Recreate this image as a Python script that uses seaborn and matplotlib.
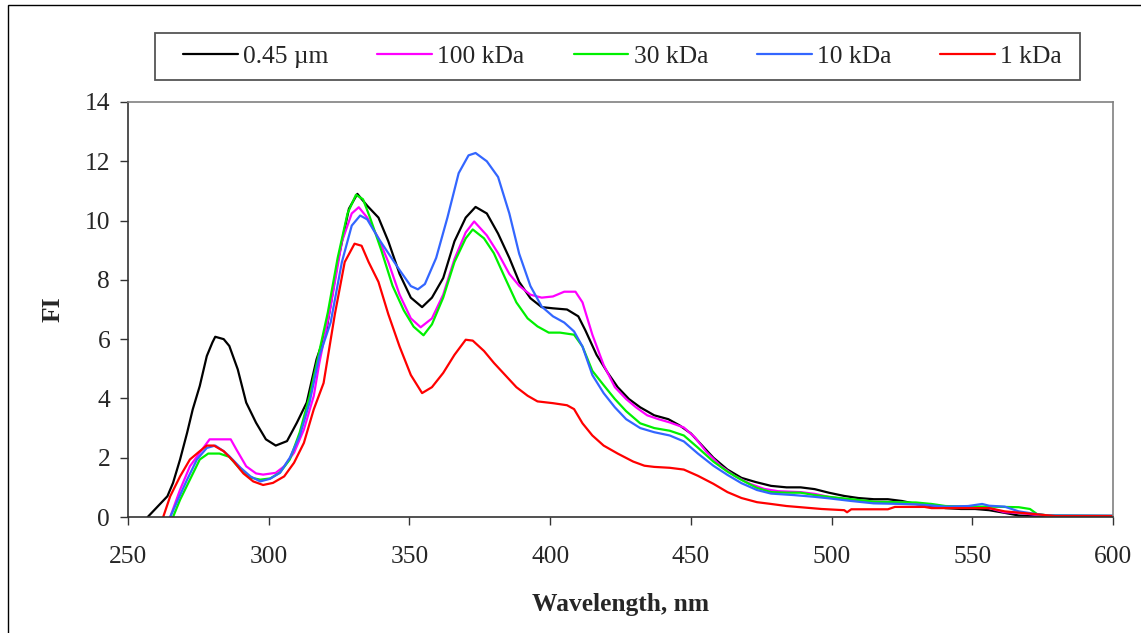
import matplotlib
matplotlib.use("Agg")
import matplotlib.pyplot as plt
import seaborn as sns
from matplotlib.lines import Line2D
from matplotlib.patches import Rectangle

# values (wavelength nm, FI)
wl_045 = [257, 260, 264, 266, 268.5, 271, 273, 275.5, 278, 280, 281, 284, 286, 289, 292, 295.5,
          299, 302.5, 306.5, 310, 313.5, 317, 320.5, 324.5, 328.5, 331.5, 335, 339, 342.5, 346.5,
          350.5, 354.5, 358, 362, 366, 370, 373.5, 377.5, 381.5, 385.5, 389, 393, 397, 401, 406,
          410, 412.5, 416.5, 420.5, 424, 428, 432, 437, 442, 446, 450, 454, 458, 463, 468, 473,
          478.5, 484, 489, 494, 499, 504.5, 509.5, 515, 520, 525, 530, 535.5, 540.5, 546, 551,
          556, 561.5, 566.5, 574, 600]
fi_045 = [0, 0.3, 0.7, 1.15, 1.94, 2.84, 3.63, 4.42, 5.43, 5.89, 6.08, 6.0, 5.77, 4.98, 3.86, 3.18,
          2.62, 2.41, 2.56, 3.18, 3.86, 5.32, 6.3, 8.6, 10.4, 10.9, 10.5, 10.1, 9.3, 8.2,
          7.4, 7.08, 7.4, 8.06, 9.3, 10.1, 10.46, 10.24, 9.56, 8.74, 7.93, 7.38, 7.08, 7.04, 7.0,
          6.77, 6.3, 5.47, 4.86, 4.38, 3.98, 3.7, 3.43, 3.3, 3.09, 2.82, 2.41, 2.0, 1.6, 1.32, 1.18,
          1.05, 1.0, 1.0, 0.94, 0.82, 0.71, 0.64, 0.6, 0.6, 0.54, 0.44, 0.37, 0.3, 0.27, 0.27,
          0.23, 0.14, 0.05, 0.03, 0.03]

wl_100 = [265, 268.5, 272, 275.5, 279, 286.5, 288.5, 292, 295.5, 298, 302.5, 305.5, 309, 312.5,
          316, 318, 322, 326, 329.5, 332, 335, 339, 342.5, 346.5, 350.5, 354, 358, 362, 366, 370,
          373, 377.5, 381.5, 385.5, 389, 393, 397, 401, 405, 409, 411.5, 415, 419, 423, 427, 430.5,
          434.5, 438.5, 442.5, 447.5, 451.5, 455.5, 460.5, 465.5, 471, 476, 481, 489, 494, 499,
          507, 515, 525, 533, 540.5, 551, 556, 561.5, 566.5, 572, 577, 600]
fi_100 = [0, 0.92, 1.71, 2.17, 2.62, 2.62, 2.28, 1.71, 1.47, 1.43, 1.49, 1.71, 2.17, 2.95,
          4.08, 5.2, 7.1, 9.29, 10.24, 10.45, 10.1, 9.4, 8.6, 7.5, 6.7, 6.4, 6.7, 7.5, 8.7, 9.6,
          9.97, 9.5, 8.9, 8.2, 7.8, 7.5, 7.4, 7.44, 7.6, 7.6, 7.24, 6.15, 5.13, 4.38, 3.98, 3.7,
          3.43, 3.3, 3.19, 3.02, 2.68, 2.2, 1.73, 1.39, 1.12, 0.95, 0.87, 0.84, 0.78, 0.68,
          0.57, 0.52, 0.49, 0.41, 0.35, 0.34, 0.3, 0.16, 0.14, 0.08, 0.05, 0.04]

wl_30 = [266, 268.5, 272, 275.5, 278.5, 282.5, 286, 290, 293.5, 297, 300.5, 304, 307.5, 311,
         314.5, 318, 321, 324.5, 328, 331, 333.5, 336, 340, 344, 348, 351.5, 355, 358, 362, 366,
         370, 372.5, 376.5, 380, 384, 388, 392, 395.5, 399.5, 403.5, 408.5, 411.5, 415, 419, 423,
         427, 432, 437, 442.5, 447.5, 452.5, 458, 463, 468, 473.5, 478.5, 484, 489, 494, 499,
         507, 515, 522.5, 530, 535.5, 540.5, 548.5, 556, 566.5, 570.5, 573, 577, 600]
fi_30 = [0, 0.58, 1.26, 1.94, 2.14, 2.14, 2.03, 1.6, 1.33, 1.26, 1.3, 1.5, 1.94, 2.85,
         4.07, 5.6, 6.9, 8.74, 10.24, 10.87, 10.72, 10.1, 9.0, 7.8, 6.97, 6.42, 6.13, 6.5, 7.4, 8.6,
         9.4, 9.7, 9.4, 8.9, 8.06, 7.24, 6.7, 6.43, 6.22, 6.22, 6.15, 5.75, 4.93, 4.45, 3.98,
         3.57, 3.16, 3.0, 2.91, 2.75, 2.34, 1.87, 1.53, 1.25, 0.98, 0.84, 0.82, 0.82, 0.74, 0.68,
         0.6, 0.52, 0.5, 0.49, 0.44, 0.37, 0.35, 0.35, 0.33, 0.27, 0.1, 0.05, 0.04]

wl_10 = [265, 267.5, 271, 274.5, 278, 281, 284, 286, 290, 293.5, 297, 300.5, 304, 307.5, 311,
         314.5, 318, 322, 326, 329.5, 332.5, 335, 339, 342.5, 346.5, 350.5, 353, 355.5, 359.5,
         363.5, 367.5, 371, 373.5, 377.5, 381.5, 385.5, 389, 393, 397, 401, 405, 408.5, 411.5,
         415, 419, 423, 427, 432, 437, 442.5, 447.5, 452.5, 458, 463, 468, 473.5, 478.5, 486.5,
         494, 499, 507, 515, 525, 533, 540.5, 548.5, 553.5, 556, 561.5, 566.5, 572, 577, 600]
fi_10 = [0, 0.53, 1.26, 1.94, 2.33, 2.41, 2.22, 2.05, 1.66, 1.37, 1.2, 1.29, 1.49, 2.0, 2.73,
         3.86, 5.43, 6.56, 8.6, 9.83, 10.17, 10.04, 9.4, 8.9, 8.33, 7.79, 7.68, 7.86, 8.74,
         10.1, 11.6, 12.2, 12.28, 12.0, 11.47, 10.24, 8.88, 7.79, 7.1, 6.77, 6.56, 6.26, 5.75,
         4.79, 4.18, 3.7, 3.3, 3.0, 2.86, 2.75, 2.55, 2.14, 1.73, 1.42, 1.14, 0.91, 0.79, 0.74,
         0.68, 0.63, 0.54, 0.46, 0.44, 0.41, 0.35, 0.37, 0.44, 0.38, 0.35, 0.19, 0.11, 0.05, 0.04]

wl_1 = [262.5, 265, 268.5, 272, 275.5, 278, 280.5, 284, 287.5, 291, 294.5, 298, 301.5, 305.5,
        309, 312.5, 316, 319.5, 323.5, 327, 330.5, 333, 335.5, 339, 342.5, 346.5, 350.5, 354.5,
        358, 362, 366, 370, 372.5, 376.5, 380, 384, 388, 392, 395.5, 401, 406, 408.5, 411.5,
        415, 419, 424, 429.5, 433.5, 437, 442.5, 447.5, 452.5, 458, 463, 468, 473.5, 478.5,
        484, 489, 496.5, 504.5, 505.5, 507, 520, 522.5, 533, 535.5, 548.5, 556, 561.5, 572,
        579.5, 600]
fi_1 = [0, 0.7, 1.37, 1.94, 2.22, 2.41, 2.41, 2.22, 1.88, 1.47, 1.2, 1.08, 1.15, 1.37,
        1.83, 2.5, 3.63, 4.52, 6.84, 8.6, 9.22, 9.15, 8.6, 7.93, 6.84, 5.75, 4.79, 4.18,
        4.38, 4.86, 5.47, 5.98, 5.95, 5.6, 5.2, 4.79, 4.38, 4.09, 3.9, 3.84, 3.77, 3.64, 3.16,
        2.75, 2.41, 2.14, 1.87, 1.73, 1.69, 1.66, 1.6, 1.39, 1.12, 0.84, 0.64, 0.5, 0.44,
        0.37, 0.33, 0.27, 0.23, 0.16, 0.26, 0.26, 0.34, 0.34, 0.3, 0.3, 0.3, 0.19, 0.1,
        0.03, 0.03]

labels = ["0.45 \u00b5m", "100 kDa", "30 kDa", "10 kDa", "1 kDa"]
colors = ["#000000", "#FF00FF", "#00F000", "#3366FF", "#FF0000"]
series = [(wl_045, fi_045), (wl_100, fi_100), (wl_30, fi_30), (wl_10, fi_10), (wl_1, fi_1)]

sns.set_style("ticks")
plt.rcParams["font.family"] = ["Liberation Serif", "DejaVu Serif"]

fig = plt.figure(figsize=(11.41, 6.33), dpi=100)
ax = fig.add_axes([128 / 1141, 1 - 517 / 633, 985 / 1141, 415 / 633])

for (xs, ys), c in zip(series, colors):
    sns.lineplot(x=xs, y=ys, color=c, linewidth=1.6, ax=ax, estimator=None)

ax.set_xlim(250, 600)
ax.set_ylim(0, 14)
ax.set_xticks(range(250, 601, 50))
ax.set_yticks(range(0, 15, 2))
ax.tick_params(labelsize=18.4, length=5.8, width=1, direction="out", color="#333333")
ax.tick_params(axis="x", pad=15)
ax.tick_params(axis="y", pad=7)
for s in ["left", "bottom"]:
    ax.spines[s].set_color("#333333")
    ax.spines[s].set_linewidth(1.2)
for s in ["top", "right"]:
    ax.spines[s].set_visible(True)
    ax.spines[s].set_color("#808080")
    ax.spines[s].set_linewidth(1.2)

ax.set_xlabel("Wavelength, nm", fontsize=18.4, fontweight="bold")
ax.set_ylabel("FI", fontsize=18.4, fontweight="bold")
ax.xaxis.set_label_coords(0.5, -0.183)
ax.yaxis.set_label_coords(-0.064, 0.5)

# legend: entries spread inside a separately drawn box
handles = [Line2D([], [], color=c, linewidth=1.6) for c in colors]
leg = fig.legend(handles, labels, ncol=5, mode="expand", loc="center",
                 bbox_to_anchor=(183 / 1141, 1 - 80 / 633, (1062 - 183) / 1141, 47 / 633),
                 fontsize=18.4, frameon=False, handlelength=2.15,
                 handletextpad=0.2, borderpad=0, borderaxespad=0)
fig.add_artist(Rectangle((155 / 1141, 1 - 80 / 633), 925 / 1141, 47 / 633,
                         transform=fig.transFigure, fill=False,
                         edgecolor="#555555", linewidth=1.3))

# outer chart border
fig.add_artist(Rectangle((8 / 1141, -0.05), 1.1, 0.05 + 1 - 5 / 633, transform=fig.transFigure,
                         fill=False, edgecolor="#000000", linewidth=1))

fig.savefig("out.png", dpi=100)
